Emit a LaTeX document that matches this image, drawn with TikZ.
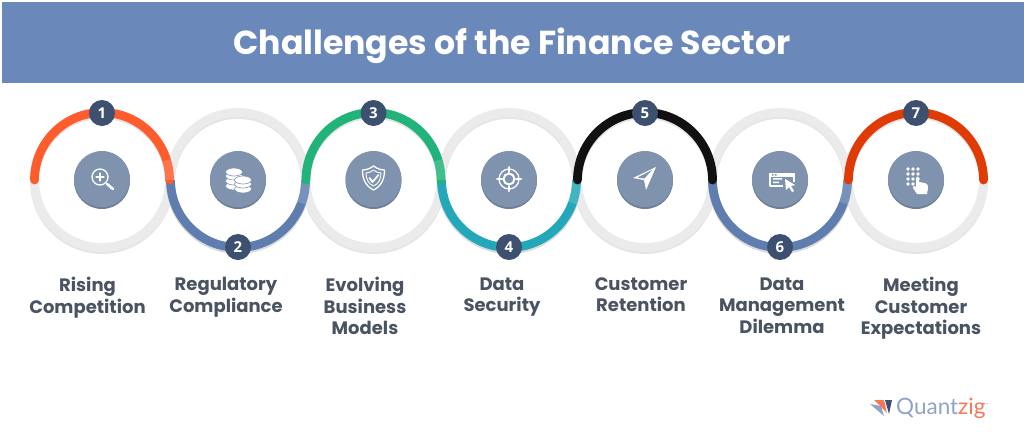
\documentclass[tikz,border=0pt]{standalone}
\usepackage{fontspec}
\setmainfont{Open Sans}
\newfontfamily\titlefont{Poppins}
\newfontfamily\logofont{Lato}
\definecolor{bannerblue}{HTML}{6A88BA}
\definecolor{ringgrey}{HTML}{EBEBEB}
\definecolor{iconblue}{HTML}{8093AE}
\definecolor{iconlip}{HTML}{6E7F98}
\definecolor{badgeblue}{HTML}{3D5070}
\definecolor{labelgrey}{HTML}{4A5361}
\definecolor{arcorange}{HTML}{FF5C2E}
\definecolor{arcblue}{HTML}{5F7EAF}
\definecolor{arcgreen}{HTML}{22B37A}
\definecolor{arcteal}{HTML}{22A8B8}
\definecolor{arcblack}{HTML}{111111}
\definecolor{arcred}{HTML}{E03A05}
\definecolor{logoblue}{HTML}{8FA3C8}
\definecolor{logoorange}{HTML}{F4775A}
\tikzset{
	ring/.style={line width=8.8pt},
	icondisc/.style={circle,fill=iconblue,minimum size=56pt,inner sep=0pt},
	badge/.style={circle,fill=badgeblue,text=white,minimum size=26pt,inner sep=0pt,font=\bfseries\fontsize{15}{15}\selectfont},
	steplabel/.style={anchor=north,align=center,text=labelgrey,font=\titlefont\bfseries\fontsize{18}{21.5}\selectfont,execute at begin node=\rule{0pt}{16pt}},
	iconline/.style={draw=white,line width=1.3pt,line cap=round,line join=round}
}
\begin{document}
\begin{tikzpicture}[x=1pt,y=-1pt]
	\useasboundingbox (0,0) rectangle (1024,445);
	\fill[bannerblue] (2,2) rectangle (1024,83);
	\node[text=white,font=\titlefont\bfseries\fontsize{33.2}{33.2}\selectfont] (title) at (512,46) {Challenges of the Finance Sector};

	\foreach \i/\cx in {1/102,2/238,3/373.5,4/509,5/645,6/780,7/916} {
		\draw[ring,black!10] (\cx,182) circle (67.5);
		\draw[ring,ringgrey] (\cx,180) circle (67.5);
	}

	\foreach \cx/\arccol in {238/arcblue,509/arcteal,780/arcblue} {
		\draw[ring,black!14] (\cx,182) ++(180:67.5) arc[start angle=180,end angle=0,radius=67.5];
		\draw[ring,\arccol] (\cx,180) ++(180:67.5) arc[start angle=180,end angle=0,radius=67.5];
		\draw[ring,white,opacity=.15] (\cx,180) ++(20:67.5) arc[start angle=20,end angle=0,radius=67.5];
	}
	\foreach \cx/\arccol in {102/arcorange,373.5/arcgreen,645/arcblack,916/arcred} {
		\draw[ring,\arccol,line cap=round] (\cx,180) ++(180:67.5) arc[start angle=180,end angle=360,radius=67.5];
	}
	\foreach \cx in {102,373.5}
		\draw[ring,white,opacity=.15,line cap=butt] (\cx,180) ++(343:67.5) arc[start angle=343,end angle=360,radius=67.5];

	\foreach \i/\cx/\ly in {1/102/113,2/238/247,3/373.5/113,4/509/247,5/645/113,6/780/247,7/916/113} {
		\fill[iconlip] (\cx,181) circle (28);
		\node[icondisc] (icon\i) at (\cx,179) {};
		\node[badge] (badge\i) at (\cx,\ly) {\i};
	}

	\begin{scope}[shift={(icon1.center)}]
		\draw[iconline] (-2,-2) circle (8);
		\draw[iconline] (-6,-2) -- (2,-2) (-2,-6) -- (-2,2);
		\draw[iconline,line width=2.6pt] (5,5) -- (11,10);
	\end{scope}
	\begin{scope}[shift={(icon2.center)}]
		\foreach \ox/\oy in {-4/7,-4/2,-4/-3,-4/-7,5/10,5/5,5/1} {
			\fill[white] (\ox,\oy) ellipse (8.5 and 4);
			\draw[iconblue,line width=.6pt] (\ox,\oy) ellipse (8.5 and 4);
		}
	\end{scope}
	\begin{scope}[shift={(icon3.center)}]
		\draw[iconline] (0,-13) .. controls (4,-10) and (8,-9) .. (11,-9) .. controls (11,0) and (8,7) .. (0,11) .. controls (-8,7) and (-11,0) .. (-11,-9) .. controls (-8,-9) and (-4,-10) .. (0,-13) -- cycle;
		\draw[iconline,line width=.9pt] (0,-9) .. controls (3,-7) and (5,-6) .. (7.5,-6) .. controls (7.5,0) and (5,5) .. (0,7) .. controls (-5,5) and (-7.5,0) .. (-7.5,-6) .. controls (-5,-6) and (-3,-7) .. (0,-9) -- cycle;
		\draw[iconline,line width=1.8pt] (-4,-1) -- (-1,3) -- (5,-4);
	\end{scope}
	\begin{scope}[shift={(icon4.center)}]
		\draw[iconline,line width=2pt] (0,0) circle (5.5);
		\draw[iconline] (0,0) circle (10);
		\draw[iconline,line width=2pt] (-12,0) -- (-7,0) (7,0) -- (12,0) (0,-12) -- (0,-7) (0,7) -- (0,12);
	\end{scope}
	\begin{scope}[shift={(icon5.center)}]
		\fill[white] (11,-12) -- (-12,-1) -- (-1,1) -- (1,11) -- cycle;
		\fill[iconblue] (7,-9) -- (-7.5,-1.5) -- (-.5,-.5) -- cycle;
	\end{scope}
	\begin{scope}[shift={(icon6.center)}]
		\draw[iconline,line width=1.2pt,line cap=butt] (3,7) -- (-10,7) -- (-10,-5.5) -- (14,-5.5) -- (14,3);
		\fill[white] (-10,-6) rectangle (14,-2.5);
		\fill[iconblue] (-8,-5) rectangle (-6.5,-3.5) (-5,-5) rectangle (-3.5,-3.5);
		\fill[white] (-7,-1) rectangle (2,.5) (-7,2.5) rectangle (-1,4);
		\fill[white] (5,0) -- (15,6) -- (11,7) -- (14,12) -- (12,13) -- (9,8) -- (6,11) -- cycle;
	\end{scope}
	\begin{scope}[shift={(icon7.center)}]
		\foreach \ox in {-8,-3,2}
			\foreach \oy in {-10,-5,0}
				\fill[white] (\ox,\oy) circle (1.9);
		\fill[white] (-8,5) circle (1.9) (-3,5) circle (1.9);
		\fill[white] (0,-1) .. controls (0,-3) and (3,-3) .. (3,-1) -- (3,3) -- (9,4) .. controls (12,4.5) and (12,7) .. (12,9) -- (11,15) -- (1,15) -- (-3,9) .. controls (-4,7) and (-2,6) .. (0,8) -- cycle;
	\end{scope}

	\node[steplabel] (label1) at (87.5,274) {Rising\\Competition};
	\node[steplabel] (label2) at (226,274) {Regulatory\\Compliance};
	\node[steplabel] (label3) at (365,274) {Evolving\\Business\\Models};
	\node[steplabel] (label4) at (502,274) {Data\\Security};
	\node[steplabel] (label5) at (641,274) {Customer\\Retention};
	\node[steplabel] (label6) at (782,274) {Data\\Management\\Dilemma};
	\node[steplabel] (label7) at (921,274) {Meeting\\Customer\\Expectations};

	\fill[logoblue] (870,404) -- (881,406) -- (884,416) -- cycle;
	\fill[logoorange] (874,400) -- (884,400) -- (887,413) -- cycle;
	\fill[badgeblue] (885,400) -- (892,400) -- (889,414) -- cycle;
	\node[anchor=west,inner sep=0pt,font=\logofont\fontsize{22.5}{22.5}\selectfont] (logo) at (896,408) {\textcolor{logoblue}{Quant}\textcolor{logoorange}{zig}\raisebox{8pt}{\textcolor{logoblue}{\fontsize{4}{4}\selectfont ™}}};
\end{tikzpicture}
\end{document}
